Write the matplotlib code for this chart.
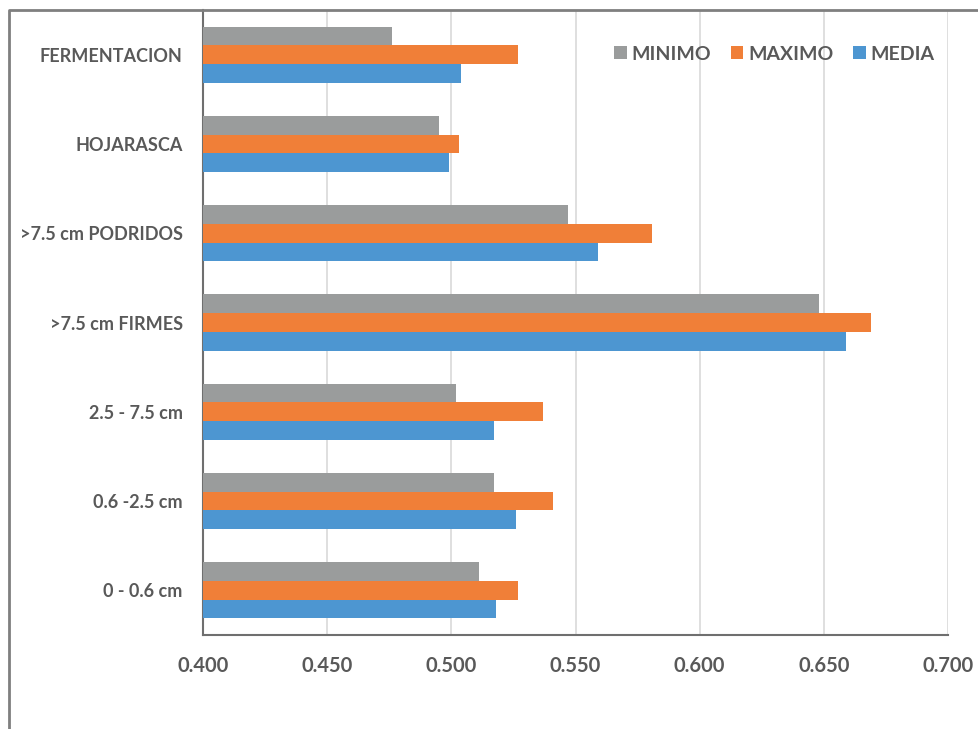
import matplotlib.pyplot as plt
import numpy as np
from matplotlib.lines import Line2D

# Datos (de abajo hacia arriba)
categorias = ['0 - 0.6 cm', '0.6 -2.5 cm', '2.5 - 7.5 cm', '>7.5 cm FIRMES',
              '>7.5 cm PODRIDOS', 'HOJARASCA', 'FERMENTACION']
minimo = [0.511, 0.517, 0.502, 0.648, 0.547, 0.495, 0.476]
maximo = [0.527, 0.541, 0.537, 0.669, 0.581, 0.503, 0.527]
media = [0.518, 0.526, 0.517, 0.659, 0.559, 0.499, 0.504]
xticks = [0.400, 0.450, 0.500, 0.550, 0.600, 0.650, 0.700]

gris = '#9a9c9c'
naranja = '#f07f38'
azul = '#4d96d1'
texto = '#595959'

plt.rcParams['font.family'] = ['Lato', 'DejaVu Sans']
plt.rcParams['font.weight'] = 'bold'

fig = plt.figure(figsize=(9.79, 7.29), dpi=100)
ax = fig.add_axes([203/979, 1 - 635/729, (948 - 203)/979, (635 - 10)/729])

y = np.arange(len(categorias))
h = 0.21
ax.barh(y + h, np.array(minimo) - 0.4, h, left=0.4, color=gris, label='MINIMO', zorder=3)
ax.barh(y, np.array(maximo) - 0.4, h, left=0.4, color=naranja, label='MAXIMO', zorder=3)
ax.barh(y - h, np.array(media) - 0.4, h, left=0.4, color=azul, label='MEDIA', zorder=3)

ax.set_xlim(0.4, 0.7)
ax.set_ylim(-0.5, len(categorias) - 0.5)
ax.set_xticks(xticks)
ax.set_xticklabels([f'{v:.3f}' for v in xticks])
ax.set_yticks(y)
ax.set_yticklabels(categorias)
ax.tick_params(axis='both', length=0, labelcolor=texto)
ax.tick_params(axis='x', pad=15, labelsize=14.5)
ax.tick_params(axis='y', pad=14.5, labelsize=13)

ax.grid(axis='x', color='#d9d9d9', linewidth=1.2, zorder=0)
for s in ['top', 'right']:
    ax.spines[s].set_visible(False)
ax.spines['left'].set_color('#6f6f6f')
ax.spines['bottom'].set_color('#6f6f6f')
ax.spines['left'].set_linewidth(1.5)
ax.spines['bottom'].set_linewidth(1.5)

leg = ax.legend(loc='upper right', bbox_to_anchor=(948/979, 1 - 32/729),
                bbox_transform=fig.transFigure, ncol=3, frameon=False,
                handlelength=0.65, handleheight=0.65, handletextpad=0.25,
                columnspacing=1.0, fontsize=14, borderpad=0.2)
for t in leg.get_texts():
    t.set_color(texto)

# Marco exterior
fig.add_artist(Line2D([9/979, 9/979, 1], [0, 1 - 10/729, 1 - 10/729],
                      transform=fig.transFigure, color='#7f7f7f', linewidth=2))

fig.savefig('out.png', dpi=100)
